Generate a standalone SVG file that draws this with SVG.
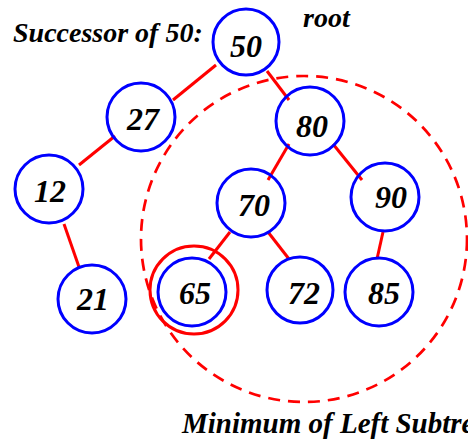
<svg xmlns="http://www.w3.org/2000/svg" width="468" height="439" viewBox="0 0 468 439">
<style>
.node circle{fill:none;stroke:#0000ff;stroke-width:3}
.node text{font-family:"Liberation Serif",serif;font-weight:bold;font-style:italic;font-size:32px;fill:#000;text-anchor:middle}
.edge{stroke:#ff0000;stroke-width:3;fill:none}
.lbl{font-family:"Liberation Serif",serif;font-weight:bold;font-style:italic;font-size:28px;fill:#000}
</style>
<rect width="468" height="439" fill="#fff"/>
<circle cx="304" cy="239" r="163" fill="none" stroke="#ff0000" stroke-width="2.7" stroke-dasharray="12 8"/>
<circle cx="194" cy="290" r="44" fill="none" stroke="#ff0000" stroke-width="3"/>
<g id="edges">
<line class="edge" x1="216" y1="65" x2="173" y2="100"/>
<line class="edge" x1="115" y1="136" x2="79" y2="165"/>
<line class="edge" x1="267" y1="71" x2="289" y2="100"/>
<line class="edge" x1="289" y1="144" x2="268" y2="180"/>
<line class="edge" x1="333" y1="144" x2="362" y2="180"/>
<line class="edge" x1="64" y1="224" x2="79" y2="267"/>
<line class="edge" x1="230" y1="232" x2="209" y2="259"/>
<line class="edge" x1="268" y1="232" x2="289" y2="259"/>
<line class="edge" x1="383" y1="232" x2="377" y2="259"/>
</g>
<g id="n50" class="node"><circle cx="246" cy="42" r="33"/><text x="246" y="57">50</text></g>
<g id="n27" class="node"><circle cx="141" cy="117" r="34"/><text x="143" y="130">27</text></g>
<g id="n80" class="node"><circle cx="310" cy="121" r="34"/><text x="312" y="137">80</text></g>
<g id="n12" class="node"><circle cx="49" cy="189" r="34"/><text x="50" y="202">12</text></g>
<g id="n70" class="node"><circle cx="251" cy="203" r="34"/><text x="254" y="216">70</text></g>
<g id="n90" class="node"><circle cx="385" cy="197" r="34"/><text x="391" y="208">90</text></g>
<g id="n21" class="node"><circle cx="92" cy="299" r="34"/><text x="93" y="310">21</text></g>
<g id="n65" class="node"><circle cx="192" cy="292" r="34"/><text x="195" y="304">65</text></g>
<g id="n72" class="node"><circle cx="300" cy="290" r="33"/><text x="304" y="304">72</text></g>
<g id="n85" class="node"><circle cx="379" cy="292" r="34"/><text x="384" y="304">85</text></g>
<text class="lbl" x="13" y="42">Successor of 50:</text>
<text class="lbl" x="303" y="27">root</text>
<text class="lbl" x="182" y="433" style="font-size:29px">Minimum of Left Subtre</text>
</svg>
